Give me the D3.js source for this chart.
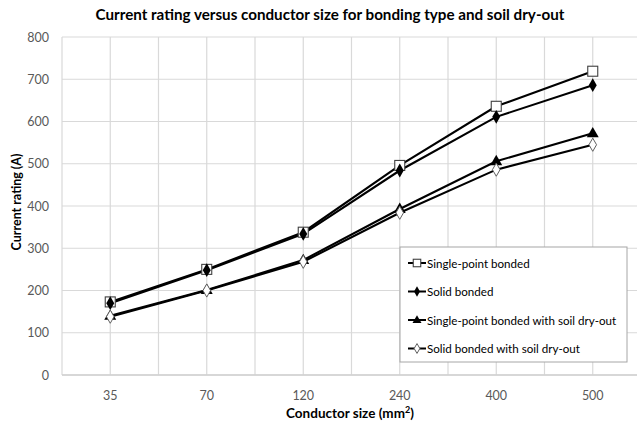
<!DOCTYPE html>
<html><head><meta charset="utf-8">
<script src="https://cdn.jsdelivr.net/npm/d3@7"></script>
<style>body{margin:0;background:#fff}svg{display:block}text{font-family:Lato,"Open Sans",sans-serif}</style>
</head><body>
<script>
const categories = ["35","70","120","240","400","500"];
const singlePoint = [173,250,338,496,636,719];
const solid = [170,248,334,484,611,686];
const singlePointDry = [140,201,272,393,506,572];
const solidDry = [138,200,268,384,486,545];
const yTicks = [0,100,200,300,400,500,600,700,800];
const seriesNames = ["Single-point bonded","Solid bonded","Single-point bonded with soil dry-out","Solid bonded with soil dry-out"];
const seriesData = [singlePoint, solid, singlePointDry, solidDry];
const markers = ["squareOpen","diamondFilled","triangleFilled","diamondOpen"];

(function(){
const W=637,H=423;
const svg=d3.select("body").append("svg").attr("width",W).attr("height",H);
const pL=62, pR=641, pT=37, pB=375;
const x=d3.scaleBand().domain(categories).range([pL,pR]);
const y=d3.scaleLinear().domain([0,800]).range([pB,pT]);

const g=svg.append("g");
yTicks.forEach(t=>g.append("line").attr("x1",pL).attr("x2",pR).attr("y1",y(t)).attr("y2",y(t)).attr("stroke","#d9d9d9").attr("stroke-width",1.2));
categories.forEach(c=>{
  [x(c), x(c)+x.bandwidth()/2].forEach(xx=>g.append("line").attr("x1",xx).attr("x2",xx).attr("y1",pT).attr("y2",pB).attr("stroke","#d9d9d9").attr("stroke-width",1.2));
});
g.append("line").attr("x1",pL).attr("x2",pR).attr("y1",pB).attr("y2",pB).attr("stroke","#d0d0d0").attr("stroke-width",1.5);

yTicks.forEach(t=>svg.append("text").attr("x",49).attr("y",y(t)+4.5).attr("text-anchor","end").attr("font-size",12.5).attr("fill","#595959").text(t));
categories.forEach(c=>svg.append("text").attr("x",x(c)+x.bandwidth()/2).attr("y",400).attr("text-anchor","middle").attr("font-size",12.5).attr("fill","#595959").text(c));

svg.append("text").attr("x",330).attr("y",20).attr("text-anchor","middle").attr("font-size",15.2).attr("font-weight","bold").attr("fill","#000").text("Current rating versus conductor size for bonding type and soil dry-out");
const xt=svg.append("text").attr("x",350).attr("y",418).attr("text-anchor","middle").attr("font-size",13.5).attr("font-weight","bold").attr("fill","#000");
xt.append("tspan").text("Conductor size (mm");
xt.append("tspan").attr("dy",-5).attr("font-size",9).text("2");
xt.append("tspan").attr("dy",5).text(")");
svg.append("text").attr("transform","translate(21,202) rotate(-90)").attr("text-anchor","middle").attr("font-size",12.5).attr("font-weight","bold").attr("fill","#000").text("Current rating (A)");

function drawMarker(sel,type,cx,cy,scale=1){
  if(type==="squareOpen") sel.append("rect").attr("x",cx-5*scale).attr("y",cy-5*scale).attr("width",10*scale).attr("height",10*scale).attr("fill","#fff").attr("stroke","#404040").attr("stroke-width",1.1);
  else if(type==="diamondFilled") sel.append("path").attr("d",d3.symbol(d3.symbolDiamond,55*scale*scale)()).attr("transform",`translate(${cx},${cy})`).attr("fill","#000");
  else if(type==="triangleFilled") sel.append("path").attr("d",d3.symbol(d3.symbolTriangle,62*scale*scale)()).attr("transform",`translate(${cx},${cy+0.5})`).attr("fill","#000");
  else sel.append("path").attr("d",d3.symbol(d3.symbolDiamond,50*scale*scale)()).attr("transform",`translate(${cx},${cy})`).attr("fill","#fff").attr("stroke","#606060").attr("stroke-width",1);
}

const cx=c=>x(c)+x.bandwidth()/2;
const line=d3.line().x((d,i)=>cx(categories[i])).y(d=>y(d));
seriesData.forEach(s=>{
  svg.append("path").datum(s).attr("d",line).attr("fill","none").attr("stroke","#000").attr("stroke-width",2.1);
});
seriesData.forEach((s,k)=>{
  s.forEach((v,i)=>drawMarker(svg,markers[k],cx(categories[i]),y(v)));
});

const lg=svg.append("g");
lg.append("rect").attr("x",400).attr("y",247).attr("width",227).attr("height",115).attr("fill","#fff").attr("stroke","#a6a6a6").attr("stroke-width",1);
seriesNames.forEach((n,i)=>{
  const yy=263+i*28.5;
  lg.append("line").attr("x1",408).attr("x2",426).attr("y1",yy).attr("y2",yy).attr("stroke","#000").attr("stroke-width",2);
  drawMarker(lg,markers[i],417,yy,0.75);
  lg.append("text").attr("x",427).attr("y",yy+4.5).attr("font-size",11.6).attr("fill","#000").text(n);
});
})();
</script>
</body></html>
